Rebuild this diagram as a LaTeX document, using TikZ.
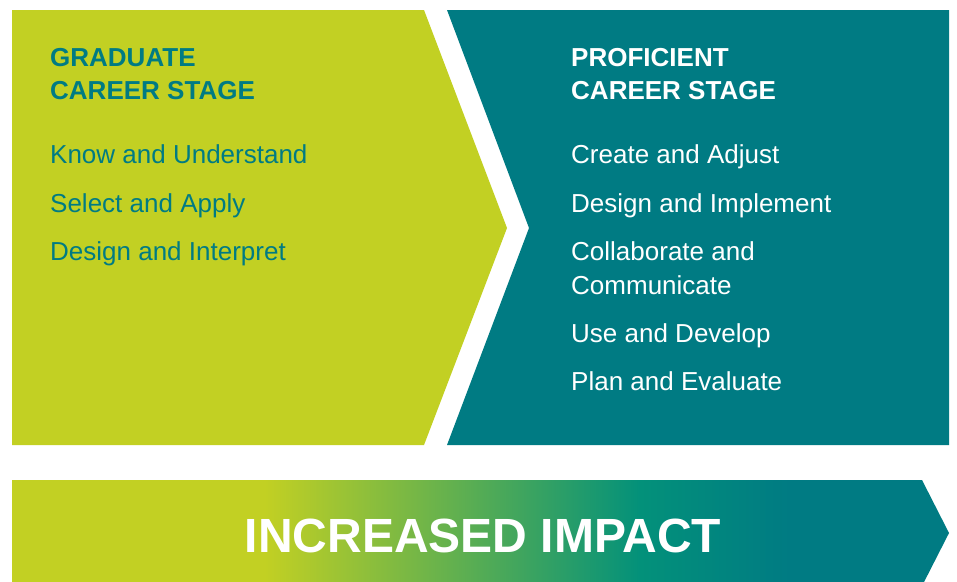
\documentclass[tikz,border=0pt]{standalone}
\usepackage{fontspec}
\setmainfont{Liberation Sans}
\definecolor{lime}{RGB}{194,208,35}
\definecolor{tealc}{RGB}{0,123,131}
\definecolor{seag}{RGB}{3,145,122}
\pgfdeclarehorizontalshading{impact}{100bp}{color(0bp)=(lime); color(38.5bp)=(lime); color(58.5bp)=(seag); color(66.5bp)=(tealc); color(100bp)=(tealc)}
\tikzset{
  head/.style={anchor=base west, inner sep=0pt, font=\fontsize{26}{34}\selectfont\bfseries},
  item/.style={anchor=base west, inner sep=0pt, font=\fontsize{26}{34}\selectfont},
}
\begin{document}
\begin{tikzpicture}[x=1pt,y=-1pt]
\useasboundingbox (0,0) rectangle (957,581);
\fill[white] (0,0) rectangle (957,581);
% left chevron
\fill[lime] (12,10) -- (424,10) -- (507,228) -- (424,445) -- (12,445) -- cycle;
% right chevron
\fill[tealc] (447,10) -- (949,10) -- (949,445) -- (447,445) -- (529,228) -- cycle;
% bottom arrow
\shade[shading=impact] (12,480) -- (922,480) -- (949,533) -- (922,586) -- (12,586) -- cycle;

% left text
\node[head, text=tealc] (g1) at (50,66) {GRADUATE};
\node[head, text=tealc] (g2) at (50,99) {CAREER STAGE};
\node[item, text=tealc] (l1) at (50,163) {Know and Understand};
\node[item, text=tealc] (l2) at (50,212) {Select and Apply};
\node[item, text=tealc] (l3) at (50,260) {Design and Interpret};

% right text
\node[head, text=white] (p1) at (571,66) {PROFICIENT};
\node[head, text=white] (p2) at (571,99) {CAREER STAGE};
\node[item, text=white] (r1) at (571,163) {Create and Adjust};
\node[item, text=white] (r2) at (571,212) {Design and Implement};
\node[item, text=white] (r3) at (571,260) {Collaborate and};
\node[item, text=white] (r3b) at (571,294) {Communicate};
\node[item, text=white] (r4) at (571,342) {Use and Develop};
\node[item, text=white] (r5) at (571,390) {Plan and Evaluate};

% bottom text
\node[anchor=base, inner sep=0pt, text=white, font=\fontsize{48}{56}\selectfont\bfseries] (imp) at (483,552) {INCREASED IMPACT};
\end{tikzpicture}
\end{document}
